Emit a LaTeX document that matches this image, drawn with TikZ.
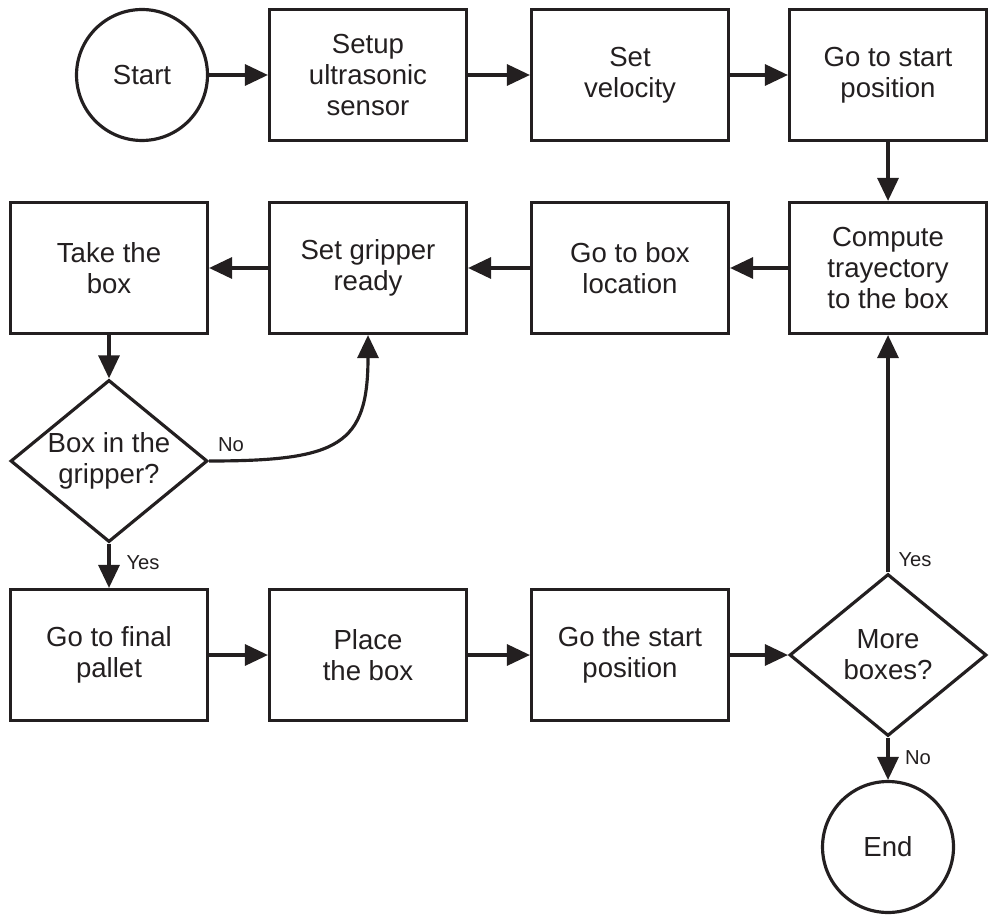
\documentclass[tikz,border=0pt]{standalone}
\usepackage{fontspec}
\setmainfont{Liberation Sans}
\usetikzlibrary{shapes.geometric,arrows.meta}
\definecolor{ink}{RGB}{35,31,32}
\begin{document}
\begin{tikzpicture}[x=0.02cm,y=-0.02cm,
    every node/.style={font=\fontsize{15.7}{17.6}\selectfont,text=ink},
    proc/.style={draw=ink,line width=1.8pt,minimum width=3.94cm,minimum height=2.62cm,align=center,inner sep=0pt},
    term/.style={draw=ink,line width=1.8pt,circle,minimum size=2.62cm,inner sep=0pt},
    dec/.style={draw=ink,line width=1.8pt,diamond,shape aspect=1.2,minimum width=3.94cm,minimum height=3.24cm,align=center,inner sep=0.5pt},
    flow/.style={draw=ink,line width=1.8pt,-{Triangle[length=0.46cm,width=0.42cm]}},
    lbl/.style={font=\fontsize{11.5}{13}\selectfont}]
   \useasboundingbox (0,0) rectangle (989,915);
   % top row
   \node[term] (st) at (142,75) {Start};
   \node[proc] (setup) at (368,75) {Setup\\ultrasonic\\sensor};
   \node[proc] (vel) at (630,75) {Set\\velocity};
   \node[proc] (gostart) at (888,75) {Go to start\\position};
   % second row, right to left
   \node[proc] (comp) at (888,268) {Compute\\trayectory\\to the box};
   \node[proc] (gobox) at (630,268) {Go to box\\location};
   \node[proc] (grip) at (368,268) {Set gripper\\ready};
   \node[proc] (take) at (109,268) {Take the\\box};
   \node[dec] (inq) at (109,461) {Box in the\\gripper?};
   % bottom row
   \node[proc] (final) at (109,655) {Go to final\\pallet};
   \node[proc] (place) at (368,655) {Place\\the box};
   \node[proc] (goback) at (630,655) {Go the start\\position};
   \node[dec] (more) at (888,655) {More\\boxes?};
   \node[term] (fin) at (888,847) {End};
   % labels
   \node[lbl] (no1) at (231,445) {No};
   \node[lbl] (yes1) at (143,563) {Yes};
   \node[lbl] (yes2) at (915,560) {Yes};
   \node[lbl] (no2) at (918,758) {No};
   % connectors
   \draw[flow] (st) -- (setup);
   \draw[flow] (setup) -- (vel);
   \draw[flow] (vel) -- (gostart);
   \draw[flow] (gostart) -- (comp);
   \draw[flow] (comp) -- (gobox);
   \draw[flow] (gobox) -- (grip);
   \draw[flow] (grip) -- (take);
   \draw[flow] (take) -- (inq);
   \draw[flow] (inq.east) .. controls +(130,0) and +(0,110) .. (grip.south);
   \draw[flow] (inq) -- (final);
   \draw[flow] (final) -- (place);
   \draw[flow] (place) -- (goback);
   \draw[flow] (goback) -- (more);
   \draw[flow] (more) -- (comp);
   \draw[flow] (more) -- (fin);
\end{tikzpicture}
\end{document}
